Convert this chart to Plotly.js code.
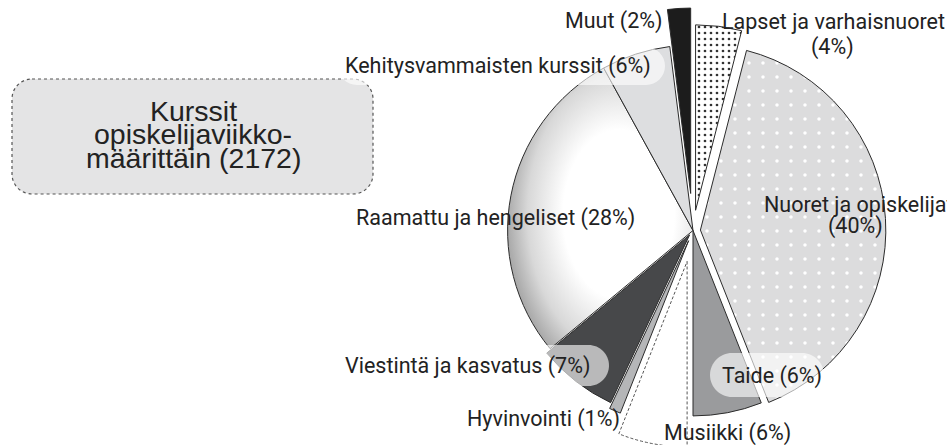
<!DOCTYPE html>
<html>
<head>
<meta charset="utf-8">
<script src="https://cdn.plot.ly/plotly-3.0.1.min.js"></script>
<style>
html,body{margin:0;padding:0;overflow:hidden;background:#fff;}
#chart{width:947px;height:453px;}
</style>
</head>
<body>
<div id="chart"></div>
<script>
// ---- data ----
var labels = ['Lapset ja varhaisnuoret','Nuoret ja opiskelijat','Taide','Musiikki','Hyvinvointi',
              'Viestintä ja kasvatus','Raamattu ja hengeliset','Kehitysvammaisten kurssit','Muut'];
var values = [4, 40, 6, 6, 1, 7, 28, 6, 2];
var titleLines = ['Kurssit', 'opiskelijaviikko-', 'määrittäin (2172)'];

// ---- styling ----
var colors   = ['#ffffff','#dcdcdd','#9a9b9d','#ffffff','#b5b6b8','#47484a','#e6e6e6','#dddee0','#1c1c1c'];
var pulls    = [0.11, 0.04, 0, 0.17, 0.06, 0.03, 0, 0, 0.2];
var patShape = ['.', '.', '', '', '', '', '', '', ''];
var patFg    = ['#333333', '#ffffff', '#000','#000','#000','#000','#000','#000','#000'];
var patSize  = [6, 14, 8, 8, 8, 8, 8, 8, 8];
var patSol   = [0.16, 0.05, 0.3, 0.3, 0.3, 0.3, 0.3, 0.3, 0.3];
var lineCol  = ['#2b2b2b','#2b2b2b','#2b2b2b','#555555','#2b2b2b','#2b2b2b','#2b2b2b','#2b2b2b','#2b2b2b'];

var W = 947, H = 453, MT = 8, PH = 445;
function px(x){ return x / W; }
function py(y){ return 1 - (y - MT) / PH; }

function pct(i){ return '(' + values[i] + '%)'; }
function full(i){ return labels[i] + ' ' + pct(i); }

var FONT = {family: 'Roboto, "Liberation Sans", Arial, sans-serif', size: 21.5, color: '#222'};

function ann(text, x, y, xanchor){
  return {text: text, x: px(x), y: py(y), xref: 'paper', yref: 'paper',
          xanchor: xanchor || 'left', yanchor: 'middle', showarrow: false, font: FONT};
}

var annotations = [
  ann(full(8), 665, 21, 'right'),
  ann(labels[0], 720, 21),
  ann(pct(0), 832, 47, 'center'),
  ann(full(7), 343, 66),
  ann(labels[1], 762, 204),
  ann(pct(1), 855, 226, 'center'),
  ann(full(6), 354, 218),
  ann(full(5), 343, 366),
  ann(full(2), 720, 376),
  ann(full(4), 465, 419),
  ann(full(3), 662, 433)
];

var TFONT = {family: '"Liberation Sans", Arial, sans-serif', size: 28.5, color: '#222'};
[[titleLines[0], 111], [titleLines[1], 134], [titleLines[2], 158]].forEach(function(t){
  annotations.push({text: t[0], x: px(193), y: py(t[1]), xref: 'paper', yref: 'paper',
    xanchor: 'center', yanchor: 'middle', showarrow: false, font: TFONT});
});

function roundRect(x0, y0, x1, y1, r){
  var k = 0.5523 * r;
  var P = function(x, y){ return px(x) + ',' + py(y); };
  return 'M' + P(x0 + r, y0) + ' L' + P(x1 - r, y0) +
    ' C' + P(x1 - r + k, y0) + ' ' + P(x1, y0 + r - k) + ' ' + P(x1, y0 + r) +
    ' L' + P(x1, y1 - r) +
    ' C' + P(x1, y1 - r + k) + ' ' + P(x1 - r + k, y1) + ' ' + P(x1 - r, y1) +
    ' L' + P(x0 + r, y1) +
    ' C' + P(x0 + r - k, y1) + ' ' + P(x0, y1 - r + k) + ' ' + P(x0, y1 - r) +
    ' L' + P(x0, y0 + r) +
    ' C' + P(x0, y0 + r - k) + ' ' + P(x0 + r - k, y0) + ' ' + P(x0 + r, y0) + ' Z';
}

var pillStyle = {fillcolor: 'rgba(255,255,255,0.62)', line: {width: 0}, layer: 'above'};
function pill(x0, y0, x1, y1){
  return Object.assign({type: 'path', xref: 'paper', yref: 'paper',
    path: roundRect(x0, y0, x1, y1, (y1 - y0) / 2)}, pillStyle);
}

var shapes = [
  {type: 'path', xref: 'paper', yref: 'paper', layer: 'below',
   path: roundRect(12, 79, 373, 194, 20), fillcolor: '#e4e4e5',
   line: {color: '#555', width: 1.2, dash: 'dot'}},
  pill(338, 47, 665, 85),
  pill(337, 345, 609, 386),
  pill(710, 353, 824, 397)
];

var data = [{
  type: 'pie',
  labels: labels,
  values: values,
  sort: false,
  direction: 'clockwise',
  rotation: 0,
  pull: pulls,
  textinfo: 'none',
  hoverinfo: 'none',
  showlegend: false,
  domain: {x: [0.4636, 1], y: [0, 1]},
  marker: {
    colors: colors,
    line: {color: lineCol, width: 1},
    pattern: {shape: patShape, fgcolor: patFg, bgcolor: colors, size: patSize, solidity: patSol}
  }
}];

var layout = {
  width: W, height: H,
  margin: {l: 0, r: 0, t: MT, b: 0},
  paper_bgcolor: '#ffffff',
  showlegend: false,
  annotations: annotations,
  shapes: shapes
};

var gd = document.getElementById('chart');
Plotly.newPlot(gd, data, layout, {staticPlot: true, displayModeBar: false}).then(function(){
  var svg = gd.querySelector('svg.main-svg');
  var NS = 'http://www.w3.org/2000/svg';
  var defs = svg.querySelector('defs');
  if (!defs) { defs = document.createElementNS(NS, 'defs'); svg.insertBefore(defs, svg.firstChild); }
  var g = document.createElementNS(NS, 'radialGradient');
  g.setAttribute('id', 'raamattuGrad');
  g.setAttribute('cx', '0.6'); g.setAttribute('cy', '0.52'); g.setAttribute('r', '0.6');
  [['0', '#ffffff'], ['0.5', '#ffffff'], ['0.82', '#d8d8d8'], ['1', '#ababab']].forEach(function(s){
    var st = document.createElementNS(NS, 'stop');
    st.setAttribute('offset', s[0]); st.setAttribute('stop-color', s[1]);
    g.appendChild(st);
  });
  defs.appendChild(g);
  var paths = gd.querySelectorAll('g.slice path.surface');
  var iR = labels.indexOf('Raamattu ja hengeliset');
  var iM = labels.indexOf('Musiikki');
  if (paths[iR]) paths[iR].style.fill = 'url(#raamattuGrad)';
  if (paths[iM]) paths[iM].style.strokeDasharray = '3,2';
});
</script>
</body>
</html>
